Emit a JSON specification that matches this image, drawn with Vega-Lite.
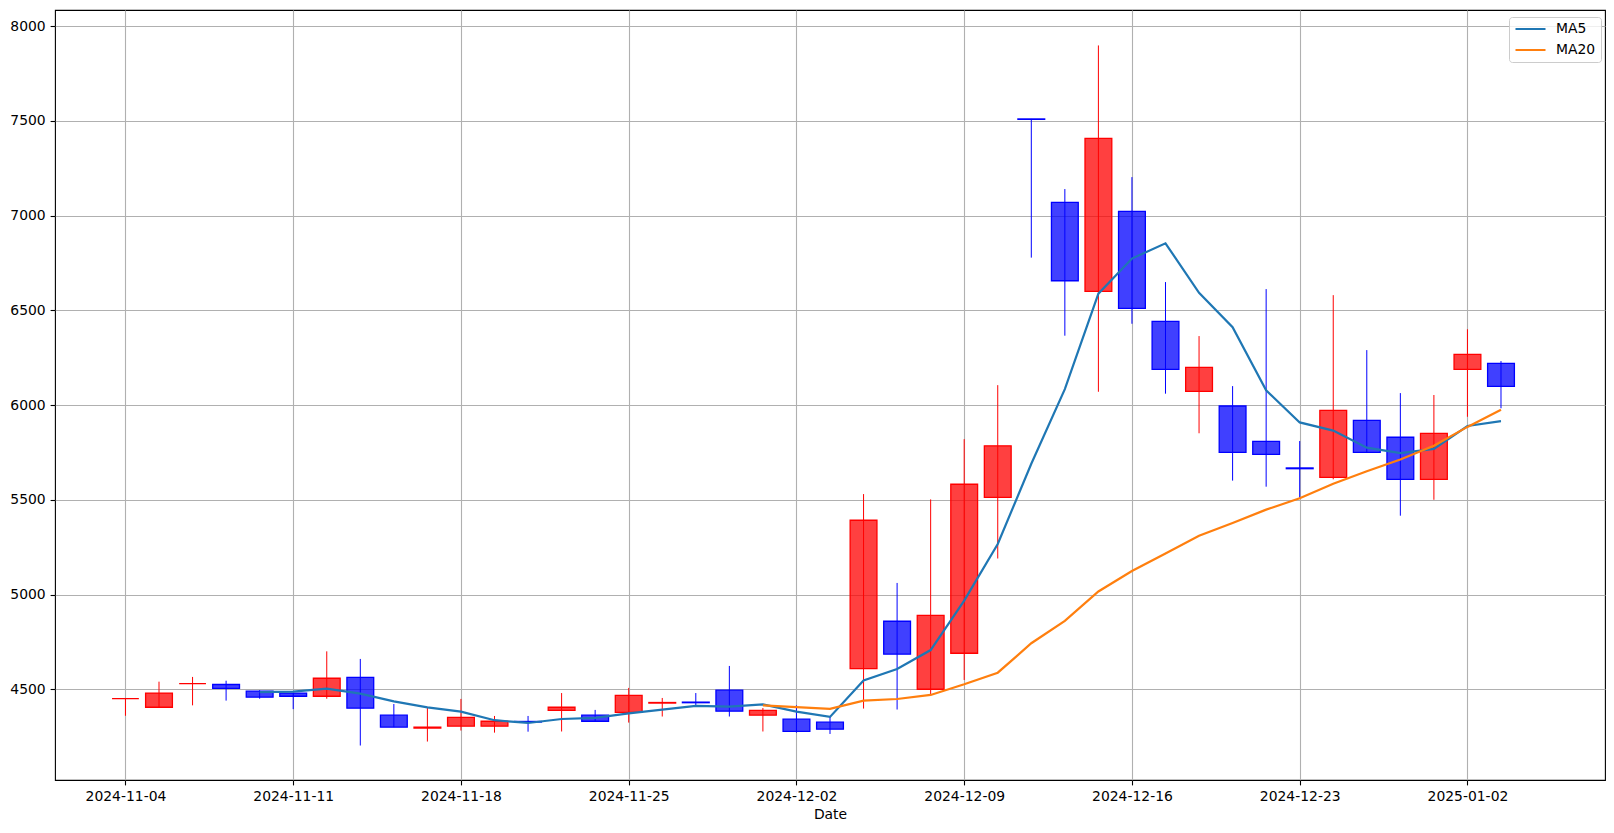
{
  "$schema": "https://vega.github.io/schema/vega-lite/v6.json",
  "width": 1550,
  "height": 770,
  "autosize": "none",
  "padding": {"left": 55, "top": 10, "right": 9, "bottom": 53},
  "background": "white",
  "data": {"values": [
    {"idx": 0, "date": "2024-11-04", "open": 4450, "high": 4450, "low": 4360, "close": 4450, "ma5": null, "ma20": null},
    {"idx": 1, "date": "2024-11-05", "open": 4405, "high": 4540, "low": 4405, "close": 4480, "ma5": null, "ma20": null},
    {"idx": 2, "date": "2024-11-06", "open": 4530, "high": 4565, "low": 4415, "close": 4530, "ma5": null, "ma20": null},
    {"idx": 3, "date": "2024-11-07", "open": 4525, "high": 4545, "low": 4440, "close": 4505, "ma5": null, "ma20": null},
    {"idx": 4, "date": "2024-11-08", "open": 4490, "high": 4495, "low": 4450, "close": 4458, "ma5": 4484.6, "ma20": null},
    {"idx": 5, "date": "2024-11-11", "open": 4480, "high": 4480, "low": 4395, "close": 4463, "ma5": 4487.2, "ma20": null},
    {"idx": 6, "date": "2024-11-12", "open": 4463, "high": 4700, "low": 4450, "close": 4558, "ma5": 4502.8, "ma20": null},
    {"idx": 7, "date": "2024-11-13", "open": 4563, "high": 4660, "low": 4203, "close": 4400, "ma5": 4476.8, "ma20": null},
    {"idx": 8, "date": "2024-11-14", "open": 4363, "high": 4422, "low": 4300, "close": 4300, "ma5": 4435.8, "ma20": null},
    {"idx": 9, "date": "2024-11-15", "open": 4295, "high": 4403, "low": 4224, "close": 4300, "ma5": 4404.2, "ma20": null},
    {"idx": 10, "date": "2024-11-18", "open": 4305, "high": 4449, "low": 4282, "close": 4352, "ma5": 4382, "ma20": null},
    {"idx": 11, "date": "2024-11-19", "open": 4305, "high": 4359, "low": 4271, "close": 4331, "ma5": 4336.6, "ma20": null},
    {"idx": 12, "date": "2024-11-20", "open": 4330, "high": 4359, "low": 4276, "close": 4327, "ma5": 4322, "ma20": null},
    {"idx": 13, "date": "2024-11-21", "open": 4389, "high": 4480, "low": 4277, "close": 4405, "ma5": 4343, "ma20": null},
    {"idx": 14, "date": "2024-11-22", "open": 4363, "high": 4391, "low": 4331, "close": 4331, "ma5": 4349.2, "ma20": null},
    {"idx": 15, "date": "2024-11-25", "open": 4378, "high": 4507, "low": 4324, "close": 4468, "ma5": 4372.4, "ma20": null},
    {"idx": 16, "date": "2024-11-26", "open": 4427, "high": 4454, "low": 4356, "close": 4430, "ma5": 4392.2, "ma20": null},
    {"idx": 17, "date": "2024-11-27", "open": 4432, "high": 4480, "low": 4408, "close": 4429, "ma5": 4412.6, "ma20": null},
    {"idx": 18, "date": "2024-11-28", "open": 4495, "high": 4623, "low": 4356, "close": 4384, "ma5": 4408.4, "ma20": null},
    {"idx": 19, "date": "2024-11-29", "open": 4363, "high": 4401, "low": 4277, "close": 4389, "ma5": 4420, "ma20": 4414.5},
    {"idx": 20, "date": "2024-12-02", "open": 4342, "high": 4415, "low": 4271, "close": 4278, "ma5": 4382, "ma20": 4405.9},
    {"idx": 21, "date": "2024-12-03", "open": 4326, "high": 4356, "low": 4264, "close": 4289, "ma5": 4353.8, "ma20": 4396.4},
    {"idx": 22, "date": "2024-12-04", "open": 4609, "high": 5530, "low": 4398, "close": 5392, "ma5": 4546.4, "ma20": 4439.5},
    {"idx": 23, "date": "2024-12-05", "open": 4859, "high": 5061, "low": 4393, "close": 4685, "ma5": 4606.6, "ma20": 4448.5},
    {"idx": 24, "date": "2024-12-06", "open": 4500, "high": 5502, "low": 4467, "close": 4890, "ma5": 4706.8, "ma20": 4470},
    {"idx": 25, "date": "2024-12-09", "open": 4690, "high": 5820, "low": 4549, "close": 5582, "ma5": 4967.6, "ma20": 4526},
    {"idx": 26, "date": "2024-12-10", "open": 5513, "high": 6105, "low": 5190, "close": 5785, "ma5": 5266.8, "ma20": 4587.4},
    {"idx": 27, "date": "2024-12-11", "open": 7510, "high": 7510, "low": 6778, "close": 7508, "ma5": 5690, "ma20": 4742.8},
    {"idx": 28, "date": "2024-12-12", "open": 7070, "high": 7140, "low": 6366, "close": 6656, "ma5": 6084.2, "ma20": 4860.6},
    {"idx": 29, "date": "2024-12-13", "open": 6600, "high": 7898, "low": 6070, "close": 7407, "ma5": 6587.6, "ma20": 5015.9},
    {"idx": 30, "date": "2024-12-16", "open": 7022, "high": 7203, "low": 6429, "close": 6510, "ma5": 6773.2, "ma20": 5123.8},
    {"idx": 31, "date": "2024-12-17", "open": 6442, "high": 6649, "low": 6060, "close": 6188, "ma5": 6853.8, "ma20": 5216.7},
    {"idx": 32, "date": "2024-12-18", "open": 6072, "high": 6364, "low": 5851, "close": 6199, "ma5": 6592, "ma20": 5310.3},
    {"idx": 33, "date": "2024-12-19", "open": 5995, "high": 6100, "low": 5601, "close": 5750, "ma5": 6410.8, "ma20": 5377.5},
    {"idx": 34, "date": "2024-12-20", "open": 5808, "high": 6612, "low": 5569, "close": 5740, "ma5": 6077.4, "ma20": 5448},
    {"idx": 35, "date": "2024-12-23", "open": 5668, "high": 5810, "low": 5511, "close": 5664, "ma5": 5908.2, "ma20": 5507.8},
    {"idx": 36, "date": "2024-12-24", "open": 5618, "high": 6580, "low": 5608, "close": 5972, "ma5": 5865, "ma20": 5584.9},
    {"idx": 37, "date": "2024-12-26", "open": 5919, "high": 6290, "low": 5750, "close": 5750, "ma5": 5775.2, "ma20": 5650.9},
    {"idx": 38, "date": "2024-12-27", "open": 5830, "high": 6063, "low": 5416, "close": 5608, "ma5": 5746.8, "ma20": 5712.1},
    {"idx": 39, "date": "2024-12-30", "open": 5608, "high": 6053, "low": 5500, "close": 5850, "ma5": 5768.8, "ma20": 5785.2},
    {"idx": 40, "date": "2025-01-02", "open": 6188, "high": 6400, "low": 5938, "close": 6267, "ma5": 5889.4, "ma20": 5884.6},
    {"idx": 41, "date": "2025-01-03", "open": 6220, "high": 6232, "low": 5983, "close": 6099, "ma5": 5914.8, "ma20": 5975.1}
  ]},
  "encoding": {
    "x": {
      "field": "idx",
      "type": "quantitative",
      "scale": {"domain": [-2.1, 44.1], "nice": false, "zero": false, "padding": 0},
      "axis": {
        "title": "Date",
        "labelAngle": 0,
        "values": [0, 5, 10, 15, 20, 25, 30, 35, 40],
        "labelExpr": "['2024-11-04','2024-11-11','2024-11-18','2024-11-25','2024-12-02','2024-12-09','2024-12-16','2024-12-23','2025-01-02'][round(datum.value / 5)]",
        "grid": true,
        "labelPadding": 4.9,
        "titlePadding": 4
      }
    }
  },
  "layer": [
    {
      "mark": {"type": "rule", "strokeWidth": 1},
      "encoding": {
        "y": {"field": "low", "type": "quantitative", "scale": {"domain": [4021, 8085], "nice": false, "zero": false, "padding": 0}, "axis": {"title": null, "format": "d", "values": [4500, 5000, 5500, 6000, 6500, 7000, 7500, 8000], "grid": true, "labelPadding": 4.9}},
        "y2": {"field": "high"},
        "color": {"condition": {"test": "datum.close >= datum.open", "value": "#ff0000"}, "value": "#0000ff"}
      }
    },
    {
      "mark": {"type": "bar", "width": 26.8, "fillOpacity": 0.75, "strokeWidth": 1.3},
      "encoding": {
        "y": {"field": "open", "type": "quantitative"},
        "y2": {"field": "close"},
        "fill": {"condition": {"test": "datum.close >= datum.open", "value": "#ff0000"}, "value": "#0000ff"},
        "stroke": {"condition": {"test": "datum.close >= datum.open", "value": "#ff0000"}, "value": "#0000ff"}
      }
    },
    {
      "mark": {"type": "line", "strokeWidth": 2.2},
      "encoding": {
        "y": {"field": "ma5", "type": "quantitative"},
        "color": {"datum": "MA5", "type": "nominal", "scale": {"domain": ["MA5", "MA20"], "range": ["#1f77b4", "#ff7f0e"]}, "legend": {"title": null}}
      }
    },
    {
      "mark": {"type": "line", "strokeWidth": 2.2},
      "encoding": {
        "y": {"field": "ma20", "type": "quantitative"},
        "color": {"datum": "MA20", "type": "nominal"}
      }
    }
  ],
  "config": {
    "font": "DejaVu Sans",
    "view": {"stroke": "#000000", "strokeWidth": 1.1},
    "axis": {
      "domain": false,
      "labelFont": "DejaVu Sans",
      "titleFont": "DejaVu Sans",
      "labelFontSize": 13.9,
      "titleFontSize": 13.9,
      "titleFontWeight": "normal",
      "labelColor": "#000000",
      "titleColor": "#000000",
      "tickColor": "#000000",
      "tickSize": 4.9,
      "tickWidth": 1.1,
      "gridColor": "#b0b0b0",
      "gridWidth": 1.1,
      "gridOpacity": 1
    },
    "legend": {
      "orient": "none",
      "legendX": 1454,
      "legendY": 7,
      "fillColor": "rgba(255,255,255,0.8)",
      "strokeColor": "#cccccc",
      "cornerRadius": 3,
      "padding": 5,
      "labelFont": "DejaVu Sans",
      "labelFontSize": 13.9,
      "labelColor": "#000000",
      "symbolType": "stroke",
      "symbolSize": 900,
      "symbolStrokeWidth": 2.2,
      "clipHeight": 14,
      "labelOffset": 9,
      "rowPadding": 7
    }
  }
}
